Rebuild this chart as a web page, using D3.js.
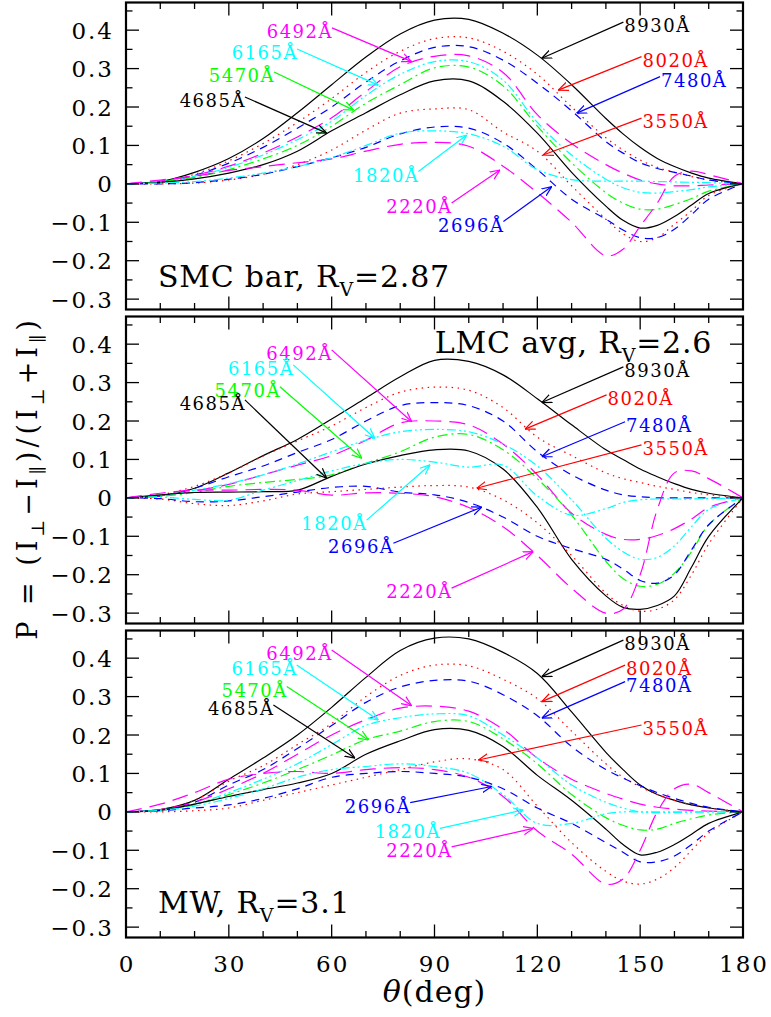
<!DOCTYPE html>
<html>
<head>
<meta charset="utf-8">
<script src="https://cdn.jsdelivr.net/npm/d3@7"></script>
<style>
  body { margin: 0; background: #fff; }
  svg text { font-family: "DejaVu Serif", serif; fill: #000; }
</style>
</head>
<body>
<svg id="chart" width="771" height="1017"></svg>
<script>
// scattering angle grid (deg)
const theta = [0,10,20,30,40,50,60,70,80,90,100,110,120,130,140,145,150,155,160,165,170,180];
const wavelengths = [8930, 8020, 7480, 6492, 6165, 5470, 4685, 3550, 2696, 2220, 1820];

// P(theta), one row per wavelength (same order as above)
const smcP = [
  [0,0.006,0.03,0.066,0.118,0.185,0.258,0.33,0.39,0.426,0.428,0.392,0.335,0.258,0.17,0.13,0.095,0.066,0.045,0.028,0.015,0],
  [0,0.005,0.025,0.06,0.105,0.16,0.222,0.29,0.345,0.378,0.38,0.345,0.285,0.2,0.12,0.088,0.062,0.043,0.03,0.019,0.01,0],
  [0,0.005,0.022,0.054,0.095,0.145,0.2,0.265,0.32,0.355,0.357,0.322,0.262,0.19,0.11,0.08,0.055,0.04,0.03,0.02,0.01,0],
  [0,0.008,0.022,0.046,0.08,0.122,0.172,0.24,0.305,0.332,0.333,0.29,0.18,0.105,0.05,0.028,0.01,0,-0.005,-0.005,-0.003,0],
  [0,0.006,0.02,0.043,0.075,0.115,0.163,0.23,0.285,0.318,0.318,0.27,0.16,0.075,0.012,-0.01,-0.022,-0.024,-0.02,-0.015,-0.008,0],
  [0,0.005,0.017,0.037,0.065,0.1,0.15,0.21,0.258,0.302,0.304,0.255,0.15,0.055,-0.023,-0.05,-0.066,-0.066,-0.054,-0.038,-0.019,0],
  [0,0.004,0.013,0.028,0.05,0.085,0.138,0.185,0.232,0.268,0.268,0.215,0.132,0.03,-0.058,-0.095,-0.115,-0.108,-0.085,-0.055,-0.025,0],
  [0,0,0.002,0.01,0.025,0.05,0.088,0.14,0.184,0.195,0.193,0.135,0.085,-0.005,-0.092,-0.13,-0.15,-0.14,-0.105,-0.07,-0.03,0],
  [0,0,0.003,0.012,0.025,0.045,0.068,0.095,0.13,0.148,0.145,0.106,0.037,-0.04,-0.092,-0.12,-0.14,-0.14,-0.118,-0.08,-0.04,0],
  [0,0.01,0.02,0.035,0.045,0.055,0.065,0.085,0.103,0.108,0.098,0.046,-0.023,-0.1,-0.187,-0.17,-0.11,-0.05,0.02,0.033,0.024,0],
  [0,0.002,0.006,0.015,0.028,0.045,0.068,0.1,0.132,0.138,0.13,0.098,0.037,0.011,0.007,0.007,0.007,0.006,0.005,0.004,0.003,0]
];
const lmcP = [
  [0,0.005,0.025,0.065,0.11,0.152,0.205,0.26,0.315,0.358,0.355,0.32,0.258,0.19,0.125,0.1,0.075,0.055,0.037,0.022,0.012,0],
  [0,0.008,0.03,0.065,0.109,0.148,0.187,0.235,0.275,0.288,0.28,0.235,0.158,0.11,0.065,0.05,0.04,0.03,0.022,0.014,0.008,0],
  [0,0.005,0.025,0.055,0.083,0.118,0.152,0.2,0.24,0.248,0.24,0.2,0.12,0.06,0.02,0.008,0.003,0,0,0,0,0],
  [0,0.006,0.018,0.035,0.06,0.085,0.11,0.15,0.195,0.2,0.19,0.14,0.06,-0.04,-0.095,-0.108,-0.108,-0.098,-0.08,-0.055,-0.025,0],
  [0,0.005,0.02,0.037,0.06,0.088,0.12,0.15,0.172,0.178,0.172,0.14,0.083,-0.005,-0.105,-0.14,-0.16,-0.155,-0.125,-0.075,-0.03,0],
  [0,0.004,0.014,0.03,0.04,0.048,0.06,0.09,0.12,0.158,0.165,0.125,0.05,-0.045,-0.165,-0.21,-0.23,-0.225,-0.196,-0.14,-0.07,0],
  [0,0.008,0.014,0.015,0.016,0.02,0.056,0.088,0.11,0.125,0.122,0.075,-0.025,-0.16,-0.255,-0.285,-0.29,-0.28,-0.255,-0.18,-0.1,0],
  [0,-0.003,-0.015,-0.02,-0.008,0.01,0.016,0.022,0.028,0.032,0.028,-0.005,-0.065,-0.15,-0.248,-0.28,-0.295,-0.29,-0.265,-0.2,-0.12,0],
  [0,-0.002,-0.01,-0.008,0.003,0.015,0.027,0.03,0.015,0.008,-0.012,-0.05,-0.1,-0.132,-0.16,-0.185,-0.215,-0.222,-0.2,-0.135,-0.07,0],
  [0,0.012,0.02,0.02,0.022,0.02,0.007,0.013,0.012,0.003,-0.025,-0.075,-0.15,-0.235,-0.3,-0.29,-0.2,-0.03,0.065,0.07,0.05,0],
  [0,0.002,-0.004,-0.006,0.02,0.045,0.07,0.09,0.1,0.093,0.08,0.085,0.005,-0.045,-0.028,-0.012,-0.005,-0.003,-0.003,-0.003,-0.002,0]
];
const mwP = [
  [0,0.006,0.03,0.085,0.14,0.2,0.272,0.35,0.42,0.452,0.45,0.415,0.36,0.26,0.155,0.11,0.07,0.045,0.03,0.018,0.01,0],
  [0,0.006,0.03,0.08,0.12,0.175,0.23,0.3,0.355,0.382,0.38,0.345,0.295,0.21,0.125,0.09,0.065,0.045,0.03,0.018,0.01,0],
  [0,0.005,0.025,0.07,0.11,0.165,0.225,0.285,0.325,0.342,0.34,0.305,0.25,0.17,0.11,0.088,0.068,0.05,0.035,0.022,0.012,0],
  [0,0.006,0.025,0.06,0.1,0.15,0.2,0.24,0.27,0.275,0.262,0.215,0.14,0.085,0.048,0.033,0.02,0.012,0.007,0.004,0.002,0],
  [0,0.005,0.02,0.05,0.085,0.125,0.175,0.225,0.245,0.255,0.25,0.2,0.14,0.07,0.025,0.01,0,-0.002,-0.002,-0.001,0,0],
  [0,0.004,0.018,0.045,0.075,0.11,0.148,0.188,0.21,0.235,0.235,0.19,0.125,0.045,-0.015,-0.035,-0.047,-0.045,-0.03,-0.018,-0.008,0],
  [0,0.004,0.02,0.04,0.058,0.075,0.1,0.15,0.185,0.214,0.212,0.17,0.095,0.03,-0.045,-0.085,-0.112,-0.105,-0.085,-0.058,-0.03,0],
  [0,0,0.003,0.01,0.03,0.05,0.07,0.09,0.11,0.13,0.138,0.11,0.015,-0.08,-0.155,-0.18,-0.188,-0.175,-0.145,-0.1,-0.055,0],
  [0,0.003,0.01,0.018,0.035,0.06,0.09,0.1,0.105,0.1,0.09,0.06,0.01,-0.03,-0.08,-0.105,-0.13,-0.13,-0.115,-0.085,-0.05,0],
  [0,0.02,0.05,0.085,0.1,0.105,0.1,0.11,0.115,0.11,0.09,0.04,-0.05,-0.11,-0.188,-0.175,-0.1,0,0.06,0.072,0.05,0],
  [0,0.004,0.015,0.035,0.06,0.09,0.11,0.118,0.125,0.118,0.1,0.045,-0.03,-0.03,-0.005,0,0,0,0,0,0,0]
];

// labelled arrows: wavelength, tail (theta, P), tip (theta, P), label side
const smcArrows = [
  [6492, 60.1, 0.406, 83.35, 0.318, 'end'],
  [6165, 49.9, 0.351, 73.6, 0.257, 'end'],
  [5470, 43.2, 0.291, 66.4, 0.192, 'end'],
  [4685, 34.7, 0.226, 58.55, 0.132, 'end'],
  [8930, 145.1, 0.421, 121.3, 0.327, 'start'],
  [8020, 150.4, 0.331, 126.1, 0.244, 'start'],
  [7480, 155.8, 0.279, 131.5, 0.184, 'start'],
  [3550, 150.4, 0.171, 121.7, 0.075, 'start'],
  [1820, 85.3, 0.032, 99.4, 0.127, 'end'],
  [2220, 95.0, -0.05, 109.1, 0.036, 'end'],
  [2696, 110.1, -0.098, 124.2, -0.007, 'end']
];
const lmcArrows = [
  [8930, 145.1, 0.341, 121.3, 0.248, 'start'],
  [8020, 140.2, 0.268, 116.4, 0.179, 'start'],
  [7480, 145.6, 0.198, 121.3, 0.107, 'start'],
  [3550, 150.4, 0.138, 102.3, 0.025, 'start'],
  [6492, 60.0, 0.385, 83.35, 0.198, 'end'],
  [6165, 48.8, 0.346, 72.6, 0.155, 'end'],
  [5470, 44.9, 0.289, 68.8, 0.103, 'end'],
  [4685, 34.7, 0.255, 58.55, 0.051, 'end'],
  [1820, 70.2, -0.058, 88.7, 0.086, 'end'],
  [2696, 78.0, -0.118, 103.8, -0.024, 'end'],
  [2220, 95.0, -0.235, 118.8, -0.14, 'end']
];
const mwArrows = [
  [8930, 145.1, 0.447, 121.3, 0.352, 'start'],
  [8020, 145.6, 0.382, 121.3, 0.287, 'start'],
  [7480, 145.6, 0.339, 121.3, 0.244, 'start'],
  [3550, 150.4, 0.226, 102.8, 0.135, 'start'],
  [6492, 60.0, 0.421, 83.35, 0.276, 'end'],
  [6165, 49.8, 0.382, 73.6, 0.239, 'end'],
  [5470, 46.9, 0.326, 70.7, 0.187, 'end'],
  [4685, 43.0, 0.278, 66.8, 0.14, 'end'],
  [2696, 82.9, 0.024, 106.7, 0.066, 'end'],
  [1820, 91.6, -0.043, 115.9, 0.005, 'end'],
  [2220, 95.0, -0.091, 118.8, -0.043, 'end']
];

const panelNames = ['SMC bar', 'LMC avg', 'MW'];
const panelRv = ['2.87', '2.6', '3.1'];
const panelLabelAt = [[9.3, -0.268], [90.1, 0.376], [9.3, -0.263]];
const xTicks = d3.range(0, 181, 10);
const yTicks = d3.range(-6, 10).map(k => k * 0.05);

// line styles by wavelength index
const lineColors = ['#000','#f00','#00f','#f0f','#0ff','#0f0','#000','#f00','#00f','#f0f','#0ff'];
const lineDashes = [null,'1.5 4.5','8 6','16 8','9 3 2 3 2 3','10 4 2 4',null,'1.5 4.5','8 6','16 8','9 3 2 3 2 3'];

const svg = d3.select('#chart');
const xScale = d3.scaleLinear().domain([0, 180]).range([126, 743]);
const panelTop = [2.5, 316.5, 630.5];
const panelH = 307;

const defs = svg.append('defs');
const colorOf = w => lineColors[wavelengths.indexOf(w)];
Array.from(new Set(lineColors)).forEach(c => {
  defs.append('marker')
    .attr('id', 'ah' + c.slice(1))
    .attr('viewBox', '0 0 10 10')
    .attr('refX', 10).attr('refY', 5)
    .attr('markerWidth', 10).attr('markerHeight', 10)
    .attr('markerUnits', 'userSpaceOnUse')
    .attr('orient', 'auto')
    .append('path')
    .attr('d', 'M0,0.8 L10,5 L0,9.2')
    .attr('fill', 'none')
    .attr('stroke', c)
    .attr('stroke-width', 1.2);
});

const panels = [
  {P: smcP, arrows: smcArrows},
  {P: lmcP, arrows: lmcArrows},
  {P: mwP, arrows: mwArrows}
];

panels.forEach((panel, i) => {
  const top = panelTop[i];
  const yScale = d3.scaleLinear().domain([-0.327, 0.472]).range([top + panelH, top]);
  const g = svg.append('g');

  defs.append('clipPath').attr('id', 'clip' + i)
    .append('rect')
    .attr('x', xScale(0)).attr('y', top)
    .attr('width', xScale(180) - xScale(0)).attr('height', panelH);

  const line = d3.line()
    .x((d, j) => xScale(theta[j]))
    .y(d => yScale(d))
    .curve(d3.curveCatmullRom.alpha(0.5));

  g.append('g').attr('clip-path', `url(#clip${i})`)
    .selectAll('path')
    .data(panel.P)
    .join('path')
    .attr('d', line)
    .attr('fill', 'none')
    .attr('stroke', (d, k) => lineColors[k])
    .attr('stroke-width', 1.2)
    .attr('stroke-dasharray', (d, k) => lineDashes[k]);

  // ticks
  const tk = g.append('g').attr('stroke', '#000').attr('stroke-width', 1.3);
  yTicks.forEach((v, k) => {
    const major = k % 2 === 0;
    const len = major ? 13 : 6.5;
    const y = yScale(v);
    tk.append('line').attr('x1', xScale(0)).attr('x2', xScale(0) + len).attr('y1', y).attr('y2', y);
    tk.append('line').attr('x1', xScale(180)).attr('x2', xScale(180) - len).attr('y1', y).attr('y2', y);
    if (major) {
      const lab = Math.abs(v) < 1e-9 ? '0' : (v < 0 ? '\u2212' : '') + Math.abs(v).toFixed(1);
      g.append('text')
        .attr('x', 114).attr('y', y + 8.5)
        .attr('text-anchor', 'end')
        .style('font-size', '23px').style('letter-spacing', '2px')
        .text(lab);
    }
  });
  xTicks.forEach(t => {
    const len = t % 30 === 0 ? 13 : 6.5;
    const x = xScale(t);
    tk.append('line').attr('x1', x).attr('x2', x).attr('y1', top + panelH).attr('y2', top + panelH - len);
    tk.append('line').attr('x1', x).attr('x2', x).attr('y1', top).attr('y2', top + len);
    if (i === 2 && t % 30 === 0) {
      g.append('text')
        .attr('x', x + 1).attr('y', 971.5)
        .attr('text-anchor', 'middle')
        .style('font-size', '23px').style('letter-spacing', '2px')
        .text(t);
    }
  });

  g.append('rect')
    .attr('x', xScale(0)).attr('y', top)
    .attr('width', xScale(180) - xScale(0)).attr('height', panelH)
    .attr('fill', 'none').attr('stroke', '#000').attr('stroke-width', 2.2);

  // arrows + labels
  panel.arrows.forEach(([w, t0, p0, t1, p1, side]) => {
    const c = colorOf(w);
    g.append('line')
      .attr('x1', xScale(t0)).attr('y1', yScale(p0))
      .attr('x2', xScale(t1)).attr('y2', yScale(p1))
      .attr('stroke', c).attr('stroke-width', 1.2)
      .attr('marker-end', `url(#ah${c.slice(1)})`);
    g.append('text')
      .attr('x', xScale(t0) + 1)
      .attr('y', yScale(p0) + 10)
      .attr('text-anchor', side)
      .style('font-size', '18px').style('letter-spacing', '1.5px')
      .style('fill', c)
      .text(w + '\u00c5');
  });

  // panel title
  const [lt, lp] = panelLabelAt[i];
  const tt = g.append('text')
    .attr('x', xScale(lt)).attr('y', yScale(lp))
    .style('font-size', '30px').style('letter-spacing', '0.8px');
  tt.append('tspan').text(panelNames[i] + ', R');
  tt.append('tspan').attr('dy', 9).style('font-size', '19px').text('V');
  tt.append('tspan').attr('dy', -9).text('=' + panelRv[i]);
});

// axis titles
const xt = svg.append('text')
  .attr('x', xScale(90)).attr('y', 1002)
  .attr('text-anchor', 'middle')
  .style('font-size', '30px').style('letter-spacing', '1px');
xt.append('tspan').style('font-style', 'italic').text('\u03b8');
xt.append('tspan').text('(deg)');

const yt = svg.append('text')
  .attr('transform', 'translate(37,478) rotate(-90)')
  .attr('text-anchor', 'middle')
  .style('font-size', '27px').style('letter-spacing', '4px');
const ypieces = [['P = (I', 0], ['\u22a5', 1], ['\u2212I', 0], ['\u2225', 1], [')/(I', 0], ['\u22a5', 1], ['+I', 0], ['\u2225', 1], [')', 0]];
let sub = false;
ypieces.forEach(([s, isSub]) => {
  const ts = yt.append('tspan').text(s);
  if (isSub && !sub) { ts.attr('dy', 7).style('font-size', '18px'); sub = true; }
  else if (!isSub && sub) { ts.attr('dy', -7); sub = false; }
});
</script>
</body>
</html>
